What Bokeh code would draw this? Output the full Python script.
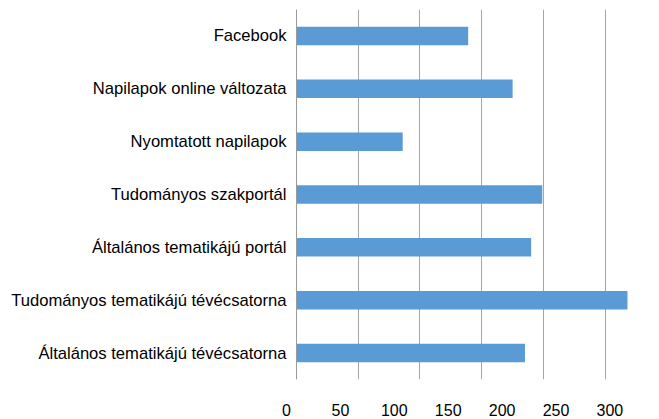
from bokeh.plotting import figure
from bokeh.models import (Range1d, FactorRange, LinearAxis, Grid, SingleIntervalTicker,
                          Span, ColumnDataSource)
from bokeh.embed import file_html
from bokeh.resources import INLINE

# categories listed top to bottom as in the chart
categories = [
    "Facebook",
    "Napilapok online változata",
    "Nyomtatott napilapok",
    "Tudományos szakportál",
    "Általános tematikájú portál",
    "Tudományos tematikájú tévécsatorna",
    "Általános tematikájú tévécsatorna",
]
values = [139, 175, 86, 199, 190, 268, 185]
tick_labels = [0, 50, 100, 150, 200, 250, 300]

BAR = "#5B9BD5"
GRID = "#A6A6A6"
FONT = "Liberation Sans"

src = ColumnDataSource(data=dict(cat=categories, val=values))

p = figure(
    width=655, height=418,
    x_range=Range1d(-8.1, 282.6),
    y_range=FactorRange(factors=list(reversed(categories))),
    x_axis_location=None,
    output_backend="svg", toolbar_location=None,
    min_border_left=286, min_border_right=10,
    min_border_top=9, min_border_bottom=39,
)
p.outline_line_color = None
p.background_fill_color = "white"
p.border_fill_color = "white"

# vertical gridlines every 50 (drawn by the library's ticker)
p.add_layout(Grid(dimension=0, ticker=SingleIntervalTicker(interval=50),
                  grid_line_color=GRID, grid_line_width=1))
p.ygrid.grid_line_color = None

p.hbar(y="cat", right="val", left=0, height=0.35, source=src,
       fill_color=BAR, line_color=None)

# the value axis line at 0
p.add_layout(Span(location=0, dimension="height", line_color="#9A9A9A", line_width=1))

# category axis
yax = p.yaxis[0]
yax.axis_line_color = None
yax.major_tick_line_color = None
yax.minor_tick_line_color = None
yax.major_tick_out = 0
yax.major_tick_in = 0
yax.major_label_standoff = 0
yax.major_label_text_font = FONT
yax.major_label_text_font_size = "16.6px"
yax.major_label_text_color = "#000000"

# tick label row below
p.extra_x_ranges = {"lbl": Range1d(0, 333.0)}
lax = LinearAxis(x_range_name="lbl",
                 ticker=SingleIntervalTicker(interval=50),
                 axis_line_color=None, major_tick_line_color=None,
                 minor_tick_line_color=None, major_tick_in=0, major_tick_out=0,
                 major_label_standoff=20,
                 major_label_text_font=FONT,
                 major_label_text_font_size="16px",
                 major_label_text_color="#000000")
p.add_layout(lax, "below")

open("out.html", "w").write(file_html(p, INLINE))
